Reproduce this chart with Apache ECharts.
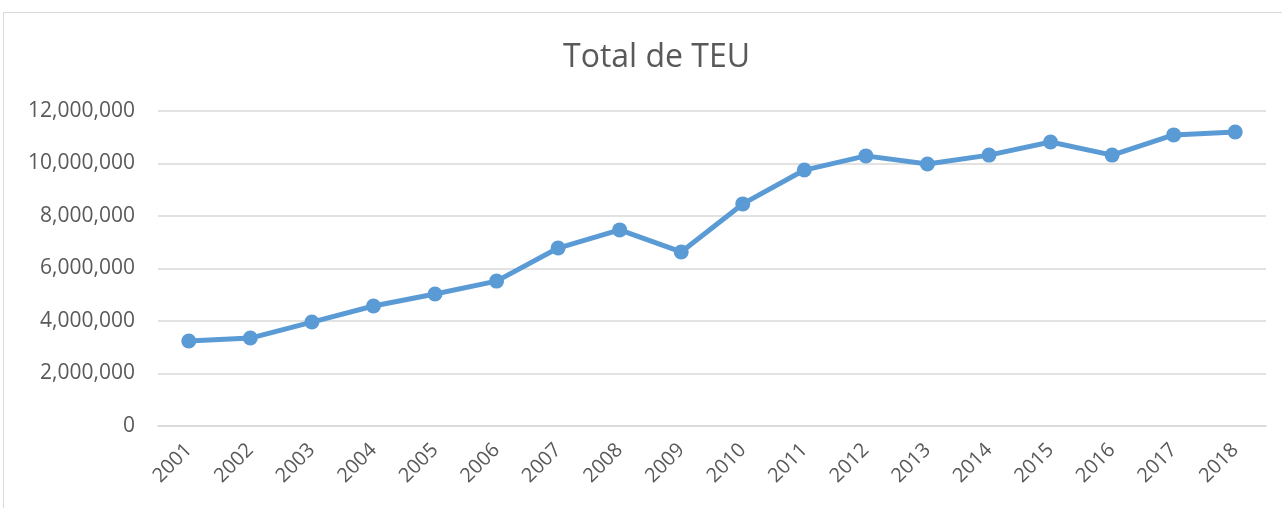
<!DOCTYPE html>
<html>
<head>
<meta charset="utf-8">
<script src="https://cdn.jsdelivr.net/npm/echarts@6/dist/echarts.min.js"></script>
<style>
  html, body { margin: 0; padding: 0; background: #fff; }
  #box {
    position: absolute; left: 3px; top: 12px; width: 1290px; height: 510px;
    border: 1px solid #d9d9d9; box-sizing: border-box;
  }
  #chart { position: absolute; left: 0; top: 0; width: 1282px; height: 508px; }
</style>
</head>
<body>
<div id="box"></div>
<div id="chart"></div>
<script>
  // años y total de TEU
  var years = ['2001', '2002', '2003', '2004', '2005', '2006', '2007', '2008', '2009',
               '2010', '2011', '2012', '2013', '2014', '2015', '2016', '2017', '2018'];
  var teu = [3240000, 3350000, 3960000, 4570000, 5030000, 5520000, 6780000, 7470000, 6630000,
             8460000, 9750000, 10290000, 9980000, 10320000, 10820000, 10320000, 11090000, 11200000];

  var chart = echarts.init(document.getElementById('chart'));
  chart.setOption({
    animation: false,
    title: {
      text: 'Total de TEU',
      left: 558,
      top: 37,
      textStyle: { color: '#595959', fontSize: 32, fontWeight: 'normal', fontFamily: 'Open Sans' }
    },
    grid: { left: 158, right: 16, top: 111, bottom: 82 },
    xAxis: {
      type: 'category',
      data: years,
      boundaryGap: true,
      axisLine: { lineStyle: { color: '#d9d9d9', width: 1.5 } },
      axisTick: { show: false },
      axisLabel: {
        rotate: 45, color: '#595959', fontSize: 20, fontFamily: 'Open Sans',
        margin: 21, interval: 0
      }
    },
    yAxis: {
      type: 'value',
      min: 0, max: 12000000, interval: 2000000,
      axisLine: { show: false },
      axisTick: { show: false },
      splitLine: { lineStyle: { color: '#d9d9d9', width: 1.5 } },
      axisLabel: {
        color: '#595959', fontSize: 21, fontFamily: 'Open Sans', margin: 23,
        formatter: function (v) { return v.toLocaleString('en-US'); }
      }
    },
    series: [{
      name: 'Total de TEU',
      type: 'line',
      data: teu,
      symbol: 'circle',
      symbolSize: 15,
      lineStyle: { color: '#5b9bd5', width: 5 },
      itemStyle: { color: '#5b9bd5' }
    }]
  });
</script>
</body>
</html>
